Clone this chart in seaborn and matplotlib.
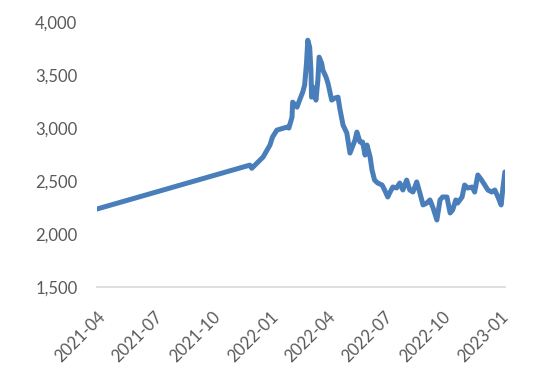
import pandas as pd
import seaborn as sns
import matplotlib.pyplot as plt
import matplotlib.dates as mdates
from matplotlib.ticker import FuncFormatter

# Values
dates = [
    "2021-04-01", "2021-11-30", "2021-12-03", "2021-12-21", "2022-01-01",
    "2022-01-05", "2022-01-12", "2022-01-28", "2022-01-31", "2022-02-05",
    "2022-02-06", "2022-02-13", "2022-02-17", "2022-02-22", "2022-02-25",
    "2022-02-28", "2022-03-02", "2022-03-05", "2022-03-07", "2022-03-08",
    "2022-03-10", "2022-03-15", "2022-03-18", "2022-03-20", "2022-03-24",
    "2022-03-26", "2022-03-31", "2022-04-03", "2022-04-09", "2022-04-14",
    "2022-04-19", "2022-04-22", "2022-04-27", "2022-05-03", "2022-05-08",
    "2022-05-16", "2022-05-19", "2022-05-24", "2022-05-28", "2022-06-01",
    "2022-06-04", "2022-06-09", "2022-06-12", "2022-06-16", "2022-06-21",
    "2022-06-28", "2022-07-02", "2022-07-07", "2022-07-10", "2022-07-15",
    "2022-07-21", "2022-07-26", "2022-07-31", "2022-08-06", "2022-08-11",
    "2022-08-16", "2022-08-22", "2022-08-27", "2022-09-01", "2022-09-07",
    "2022-09-12", "2022-09-17", "2022-09-23", "2022-09-28", "2022-10-02",
    "2022-10-09", "2022-10-14", "2022-10-18", "2022-10-23", "2022-10-26",
    "2022-11-02", "2022-11-06", "2022-11-11", "2022-11-18", "2022-11-22",
    "2022-11-27", "2022-12-03", "2022-12-08", "2022-12-13", "2022-12-19",
    "2022-12-24", "2022-12-29", "2023-01-03", "2023-01-06", "2023-01-09",
]
values = [
    2235, 2650, 2620, 2726, 2840,
    2915, 2981, 3009, 3000, 3104,
    3245, 3198, 3264, 3340, 3406,
    3613, 3830, 3764, 3547, 3292,
    3387, 3264, 3453, 3670, 3613,
    3547, 3481, 3425, 3264, 3283,
    3292, 3180, 3028, 2953, 2764,
    2887, 2962, 2868, 2868, 2745,
    2840, 2726, 2604, 2509, 2481,
    2462, 2415, 2349, 2387, 2443,
    2434, 2481, 2415, 2509, 2415,
    2396, 2491, 2387, 2274, 2292,
    2321, 2245, 2132, 2321, 2349,
    2349, 2198, 2226, 2321, 2292,
    2349, 2462, 2434, 2443, 2396,
    2557, 2509, 2462, 2415, 2396,
    2415, 2349, 2274, 2443, 2585,
]
tick_dates = ["2021-04-01", "2021-07-01", "2021-10-01", "2022-01-01",
              "2022-04-01", "2022-07-01", "2022-10-01", "2023-01-01"]
y_ticks = [1500, 2000, 2500, 3000, 3500, 4000]

df = pd.DataFrame({"date": pd.to_datetime(dates), "value": values})

sns.set_style("white")
plt.rcParams['font.family'] = ['Lato', 'DejaVu Sans']

fig = plt.figure(figsize=(5.5, 3.76), dpi=100)
ax = fig.add_axes([0.176, 0.237, 0.742, 0.704])

sns.lineplot(data=df, x="date", y="value", ax=ax, color="#4a7ebb", linewidth=3.6)

ax.set_xlim(pd.Timestamp("2021-04-01"), pd.Timestamp("2023-01-09"))
ax.set_ylim(1500, 4000)
ax.set_xticks(pd.to_datetime(tick_dates))
ax.xaxis.set_major_formatter(mdates.DateFormatter("%Y-%m"))
ax.set_yticks(y_ticks)
ax.yaxis.set_major_formatter(FuncFormatter(lambda v, p: f"{int(v):,}"))

for s in ["top", "right", "left"]:
    ax.spines[s].set_visible(False)
ax.spines["bottom"].set_color("#d9d9d9")
ax.spines["bottom"].set_linewidth(1.2)

ax.tick_params(axis="y", length=0, pad=14, labelsize=12, labelcolor="#595959")
ax.tick_params(axis="x", length=0, pad=16, labelsize=12, labelcolor="#595959")
for lbl in ax.get_xticklabels():
    lbl.set_rotation(45)
    lbl.set_ha("right")
    lbl.set_rotation_mode("anchor")

ax.set_xlabel("")
ax.set_ylabel("")

fig.savefig("out.png", dpi=100)
